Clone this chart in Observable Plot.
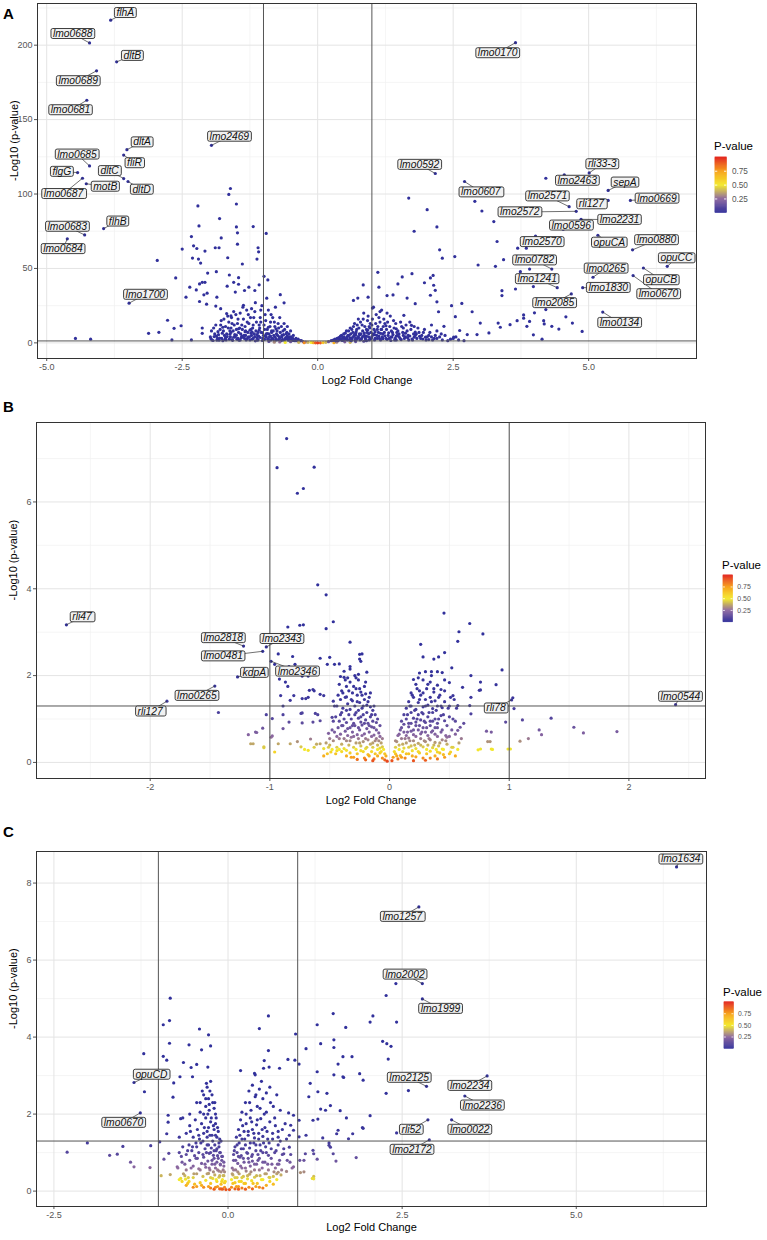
<!DOCTYPE html>
<html><head><meta charset="utf-8">
<script src="https://cdn.jsdelivr.net/npm/d3@7"></script>
<script src="https://cdn.jsdelivr.net/npm/@observablehq/plot@0.6"></script>
<style>
body{margin:0;background:#fff;font-family:"Liberation Sans",Arial,sans-serif;}
#root{position:relative;width:767px;height:1240px;overflow:hidden;background:#fff;}
.abs{position:absolute;}
.letter{font-weight:bold;font-size:15px;line-height:18px;}
.ltitle{font-size:11.5px;line-height:14px;color:#000;}
</style></head><body><div id="root"></div>
<script>
// ---------- DATA ----------
const colorStops = [0, 0.25, 0.5, 0.75, 1];
const colorRange = ["#31309b", "#8d68a0", "#f4ea2c", "#f7a21c", "#e3261f"];
const legendTicks = [0.25, 0.5, 0.75];
const foldLines = [-1, 1];
const sigLine = 1.3;

// Panel A
const xTicksA = [-5, -2.5, 0, 2.5, 5];
const xMinorA = [-3.75, -1.25, 1.25, 3.75, 6.25];
const yTicksA = [0, 50, 100, 150, 200];
const yMinorA = [25, 75, 125, 175, 225];
const genesA = [
["flhA",-3.82,216.8],["lmo0688",-4.21,201.5],["dltB",-3.71,188.8],["lmo0689",-4.08,182.8],["lmo0681",-4.26,163.0],
["lmo2469",-1.96,132.7],["dltA",-3.52,129.8],["fliR",-3.58,126.2],["lmo0685",-4.21,118.9],["flgG",-4.43,114.4],
["dltC",-3.58,110.4],["dltD",-3.50,108.4],["lmo0687",-4.34,110.6],["motB",-4.27,106.9],["flhB",-3.95,76.8],
["lmo0683",-4.30,72.5],["lmo0684",-4.62,69.9],["lmo1700",-3.48,26.7],
["lmo0170",3.65,201.7],["lmo0592",2.17,113.8],["lmo0607",2.71,108.4],["rli33-3",5.01,114.2],["lmo2463",4.55,112.9],
["sepA",5.36,102.4],["lmo2571",4.64,91.5],["rli127",5.36,95.7],["lmo2572",4.77,88.4],["lmo0669",5.77,95.7],
["lmo2231",4.86,83.0],["lmo0596",4.53,76.4],["opuCA",5.17,72.3],["lmo2570",4.02,71.8],["lmo0880",5.81,62.5],
["opuCC",6.45,51.4],["lmo0782",4.32,49.6],["lmo0265",5.08,44.1],["opuCB",6.01,50.3],["lmo1241",4.42,37.1],
["lmo1830",4.89,37.1],["lmo0670",5.82,45.2],["lmo2085",4.68,32.9],["lmo0134",5.26,20.7]];
const spotsA = [
[-3.55,221.8],[-4.52,207.7],[-3.42,193],[-4.42,176],[-4.56,156.5],
[-1.63,138.7],[-3.24,134.9],[-3.38,120.9],[-4.44,126.7],[-4.72,115.1],
[-3.84,115.6],[-3.25,103.1],[-4.69,100.2],[-3.92,105.1],[-3.69,81.7],
[-4.62,78.2],[-4.70,63.2],[-3.18,32.5],
[3.32,194.8],[1.88,119.8],[3.01,101.3],[5.25,120.2],[4.79,109.1],
[5.67,107.9],[4.24,98.6],[5.05,93.3],[3.73,87.9],[6.26,97.1],
[5.57,82.8],[4.68,79.0],[5.38,67.5],[4.14,67.9],[6.25,69.2],
[6.62,57.0],[4.0,55.6],[5.32,50.1],[6.34,42.3],[4.05,43.0],
[5.36,37.1],[6.29,32.9],[4.37,26.9],[5.57,13.6]];
const pointsA = [
[-1.61,103.7],[-1.64,99.7],[-1.50,93.3],[-2.21,92.0],[-1.81,83.5],[-2.19,78.6],[-1.50,77.9],[-1.19,78.1],[-1.48,73.9],[-0.95,73.5],
[-2.33,71.4],[-1.78,70.5],[-2.29,65.2],[-2.23,63.4],[-2.08,61.7],[-2.50,63.0],[-1.89,63.9],[-1.82,63.9],[-1.48,66.3],[-1.10,63.9],
[-1.09,61.2],[-1.12,56.3],[-2.31,57.0],[-2.20,56.3],[-2.16,53.6],[-1.66,57.2],[-1.39,53.0],[-2.96,55.4],[-2.62,43.6],[-2.03,46.9],
[-1.87,47.8],[-1.63,45.6],[-1.46,43.8],[-0.99,44.7],[-0.92,42.3],[-2.18,39.6],[-2.13,40.7],[-2.08,40.7],[-1.55,40.7],[-1.46,39.4],
[-1.67,38.1],[-2.36,37.4],[-2.24,35.6],[-2.04,33.4],[-2.10,32.3],[-1.86,30.7],[-1.52,34.1],[-1.35,35.2],[-1.27,37.4],[-1.16,35.2],
[-1.08,39.0],[-0.69,32.4],[-2.43,30.7],[-2.18,27.8],[-2.05,26.0],[-1.88,24.7],[-1.79,23.0],[-1.68,19.7],[-1.60,18.1],[-1.37,25.2],
[-1.22,23.0],[-0.62,26.9],[-2.77,15.2],[-2.52,11.5],[-2.65,9.8],[-3.12,6.4],[-2.93,7.1],[-2.69,2.0],[-2.33,2.0],[-2.13,10.0],
[-2.13,6.4],[-4.47,3.0],[-4.19,2.5],
[0.84,38.9],[1.11,47.4],[1.68,97.3],[1.78,75.0],[1.56,44.3],[1.74,46.5],[1.48,39.6],[1.13,37.4],[0.74,30.1],[0.66,28.5],
[0.93,30.7],[1.01,23.4],[1.28,31.8],[1.39,32.2],[1.65,30.1],[1.80,26.3],[1.59,18.5],[1.73,11.8],[1.80,7.3],
[2.02,89.5],[2.20,77.9],[2.25,62.5],[2.30,56.9],[2.53,58.0],[2.90,95.1],[3.03,88.6],[3.25,81.5],[3.31,68.1],[3.43,55.9],
[3.28,51.4],[2.96,52.3],[4.21,110.6],[3.69,63.6],[3.85,63.6],[3.91,49.6],[3.74,47.8],[3.98,37.8],[3.40,35.1],[3.40,31.8],
[3.65,36.2],[4.00,20.2],[4.21,22.4],[4.58,17.5],[4.70,13.3],[4.88,7.7],[4.17,14.9],[4.18,12.7],[4.32,11.1],[4.45,9.3],
[3.80,18.8],[3.80,16.6],[3.86,11.1],[3.91,14.4],[3.68,14.9],[3.98,5.4],[4.14,2.5],[3.55,12.2],[3.37,10.5],[3.33,13.3],
[3.16,6.7],[3.00,13.3],[2.94,5.6],[2.85,20.9],[2.66,26.5],[2.54,17.6],[2.47,25.0],[2.62,8.3],[2.76,5.6],[2.51,3.9],
[2.33,11.1],[2.23,20.9],[2.20,27.6],[2.14,38.7],[2.08,43.6],[1.97,40.4],[2.08,32.0],[2.17,35.3],[2.13,45.3],
[-1.95,2],[-1.9,6],[-1.88,12],[-1.85,3],[-1.8,9],[-1.78,15],[-1.75,1.5],[-1.72,5],[-1.7,11],[-1.66,18],
[-1.63,2.5],[-1.6,7],[-1.58,13],[-1.55,21],[-1.52,4],[-1.5,9],[-1.47,16],[-1.45,1.8],[-1.42,6],[-1.4,12],
[-1.38,24],[-1.35,3],[-1.33,8],[-1.3,14],[-1.28,19],[-1.25,2],[-1.22,5],[-1.2,10],[-1.18,17],[-1.15,27],
[-1.12,3.5],[-1.1,7],[-1.08,12],[-1.05,22],[-1.02,1.6],[-1.0,5],[-0.98,9],[-0.96,15],[-0.94,30],[-0.92,2.5],
[-0.9,6],[-0.88,11],[-0.86,19],[-0.84,3],[-0.82,8],[-0.8,14],[-0.78,24],[-0.76,2],[-0.74,5],[-0.72,10],
[-0.7,17],[-0.68,1.5],[-0.66,4],[-0.64,8],[-0.62,13],[-0.6,2.5],[-0.58,6],[-0.56,11],[-0.54,1.8],[-0.52,4],
[-0.5,8],[-0.47,2],[-0.45,5],[-0.42,1.5],[-0.4,3],[-0.37,2],[-0.34,1.4],[-0.3,1.6],
[-1.7,3.5],[-1.4,4.5],[-1.15,1.4],[-0.95,3.8],[-0.8,1.5],[-0.65,2.2],[-1.25,8.5],[-1.6,10],[-1.05,14],[-0.85,7],
[-1.98,4],[-1.96,8],[-1.93,1.6],[-1.92,10],[-1.87,4.5],[-1.84,7.5],[-1.82,1.8],[-1.79,12],[-1.77,3],[-1.74,8],
[-1.73,16],[-1.69,2],[-1.68,6],[-1.65,10],[-1.64,14],[-1.61,4],[-1.59,17],[-1.57,1.7],[-1.56,8],[-1.54,12],
[-1.53,5.5],[-1.51,19],[-1.49,2.5],[-1.48,13],[-1.46,7],[-1.44,10],[-1.43,20],[-1.41,3.5],[-1.39,9],[-1.37,16],
[-1.36,5],[-1.34,11],[-1.32,2],[-1.31,22],[-1.29,7],[-1.27,13],[-1.26,4],[-1.24,17],[-1.23,9],[-1.21,2.5],
[-1.19,12],[-1.17,6],[-1.16,21],[-1.14,8],[-1.13,14],[-1.11,1.8],[-1.09,4.5],[-1.07,10],[-1.06,17],[-1.04,7],
[-1.03,25],[-1.01,3],[-0.99,12],[-0.97,19],[-0.95,6],[-0.93,9],[-0.91,22],[-0.89,4],[-0.87,14],[-0.86,2],
[-0.85,8],[-0.83,17],[-0.81,5],[-0.79,11],[-0.77,2.8],[-0.75,8],[-0.73,13],[-0.71,4],[-0.69,7],[-0.67,11],
[-0.65,2],[-0.63,5.5],[-0.61,9],[-0.59,3.5],[-0.57,7],[-0.55,3],[-0.53,6],[-0.51,2],[-0.49,4],[-0.46,3],
[-0.44,1.7],[-0.41,2.3],[-0.38,1.5],[-0.36,2.5],[-0.32,1.5],
[-1.97,2.8],[-1.91,4.2],[-1.86,1.9],[-1.83,5.5],[-1.81,3.2],[-1.76,6.5],[-1.71,2.3],[-1.67,4.2],[-1.62,5.8],[-1.58,2.2],
[-1.55,3.8],[-1.5,5.2],[-1.47,3.0],[-1.43,2.0],[-1.38,4.0],[-1.33,5.0],[-1.3,2.8],[-1.28,3.8],[-1.23,6.5],[-1.19,3.0],
[-1.16,4.2],[-1.12,5.6],[-1.1,2.2],[-1.06,3.6],[-1.02,6.8],[-0.98,2.4],[-0.96,4.4],[-0.93,6.2],[-0.9,2.2],[-0.87,4.6],
[-0.83,2.8],[-0.79,4.0],[-0.76,6.0],[-0.72,2.2],[-0.7,3.4],[-0.66,5.0],[-0.62,2.0],[-0.58,3.0],[-0.56,4.6],[-0.53,2.4],
[-0.48,2.8],[-0.45,1.6],[-1.34,7.5],[-1.21,7.2],[-1.08,8.5],[-0.91,10.5],[-0.77,9.5],[-1.46,9.5],[-1.62,8.0],[-1.75,10.5],
[0.35,1.8],[0.41,2.8],[0.46,3.5],[0.52,2.3],[0.55,4.2],[0.6,3.2],[0.63,2.2],[0.67,4.4],[0.7,5.5],[0.72,2.4],
[0.75,3.4],[0.78,5.4],[0.8,2.3],[0.83,4.2],[0.86,6.6],[0.88,2.8],[0.9,4.6],[0.94,6.2],[0.97,2.6],[1.0,4.2],
[1.03,5.6],[1.06,7.5],[1.1,3.0],[1.13,4.6],[1.16,6.4],[1.2,3.4],[1.24,4.8],[1.28,2.4],[1.31,6.8],[1.35,3.8],
[1.39,5.6],[1.43,3.0],[1.46,7.0],[1.5,4.2],[1.54,2.2],[1.58,5.0],[1.62,6.5],[1.66,3.4],[1.7,4.6],[1.74,2.6],
[1.78,3.8],[1.82,6.0],[1.88,4.4],[1.94,2.6],[1.99,3.8],[2.05,2.2],[2.1,4.0],[2.2,3.0],[0.92,8.5],[1.18,9.0],[1.26,11.5],[1.45,9.5],
[-0.9,1.0],[-0.7,0.6],[-0.5,0.8],[-0.35,0.4],[-0.27,0.9],[-0.22,0.6],[-0.18,0.4],[-0.12,0.3],[-0.08,0.15],[-0.04,0.05],
[0.0,0.02],[0.05,0.05],[0.1,0.2],[0.15,0.4],[0.2,0.8],[0.35,0.5],[0.5,0.7],[0.7,0.9],[0.85,1.1],[-0.6,0.3],[0.6,0.4],[-0.8,0.5],[0.3,0.15],[-0.25,0.1],
[0.25,1.5],[0.3,2],[0.33,1.4],[0.36,3],[0.4,2],[0.42,4.5],[0.45,1.6],[0.48,6],[0.5,3],[0.53,8],
[0.55,2],[0.58,5],[0.6,10],[0.62,1.5],[0.65,7],[0.68,13],[0.7,3],[0.72,9],[0.75,16],[0.78,2],
[0.8,6],[0.82,12],[0.85,20],[0.88,4],[0.9,9],[0.92,15],[0.95,2],[0.98,7],[1.0,12],[1.03,24],
[1.06,3],[1.1,9],[1.13,17],[1.16,2],[1.2,6],[1.24,13],[1.28,20],[1.32,3],[1.36,8],[1.4,15],
[1.45,2],[1.5,6],[1.55,11],[1.6,3],[1.65,8],[1.7,14],[1.75,2],[1.8,5],[1.85,10],[1.9,3],
[1.95,7],[2.0,2],[2.05,5],[2.1,12],[2.15,3],[2.2,8],[2.3,2],[2.35,5],[2.4,1.5],[2.5,3],[2.6,2],[2.7,1.5],
[0.6,2.2],[0.75,4],[0.9,1.5],[1.05,5.5],[1.2,2.8],[1.35,1.6],[0.7,6.5],[1.45,4.5],[0.95,11],[1.15,21],
[0.28,1.7],[0.32,2.5],[0.37,1.5],[0.39,3.5],[0.43,2.5],[0.44,5],[0.47,1.8],[0.49,4],[0.51,6.5],[0.54,3],
[0.56,5],[0.57,8],[0.59,2],[0.61,6],[0.63,9],[0.64,3.5],[0.66,11],[0.67,5],[0.69,1.8],[0.71,7.5],
[0.73,12],[0.74,4],[0.76,10],[0.77,6],[0.79,14],[0.81,3],[0.83,8],[0.84,16],[0.86,5],[0.87,11],
[0.89,2],[0.91,7],[0.93,18],[0.94,4],[0.96,10],[0.97,13],[0.99,3],[1.01,16],[1.02,6],[1.04,9],
[1.05,2],[1.07,13],[1.08,19],[1.09,5],[1.11,11],[1.12,7],[1.14,3],[1.15,14],[1.17,9],[1.18,22],
[1.19,4],[1.21,11],[1.22,16],[1.23,7],[1.26,3],[1.27,9],[1.29,14],[1.3,5],[1.33,11],[1.34,18],
[1.37,4],[1.38,7],[1.41,10],[1.42,2],[1.44,13],[1.47,5],[1.48,8],[1.52,3],[1.53,14],[1.57,7],
[1.58,10],[1.62,4],[1.63,12],[1.67,5],[1.68,2],[1.72,9],[1.77,6],[1.78,11],[1.83,3],[1.87,7],
[1.92,5],[1.97,9],[2.02,4],[2.07,7],[2.12,2],[2.17,5],[2.25,4],[2.28,6],[2.45,2.5],[2.55,4]];

// Panel B
const xTicksB = [-2, -1, 0, 1, 2];
const xMinorB = [-2.5, -1.5, -0.5, 0.5, 1.5, 2.5];
const yTicksB = [0, 2, 4, 6];
const yMinorB = [1, 3, 5, 7];
const genesB = [["rli47",-2.70,3.17],["lmo2818",-1.22,2.68],["lmo2343",-1.03,2.66],["lmo0481",-1.06,2.56],["kdpA",-1.27,1.97],
["lmo2346",-0.99,2.33],["lmo0265",-1.46,1.76],["rli127",-1.86,1.41],["rli78",1.02,1.44],["lmo0544",2.39,1.33]];
const spotsB = [[-2.57,3.35],[-1.39,2.87],[-0.90,2.85],[-1.39,2.45],[-1.13,2.07],[-0.77,2.10],[-1.61,1.54],[-2.0,1.18],[0.89,1.25],[2.43,1.52]];
const pointsB = [
[-0.86,7.46],[-0.94,6.79],[-0.63,6.80],[-0.77,6.20],[-0.72,6.31],[-0.60,4.09],[-0.53,3.86],[-0.47,3.24],[-0.53,3.08],[-0.85,3.12],
[-0.75,3.16],[-0.72,3.17],[-0.33,2.77],[-0.25,2.49],[-0.25,2.38],[-0.93,2.50],[-0.81,2.44],[-0.58,2.40],[-0.50,2.42],[-0.52,2.26],
[-0.46,2.26],[-0.33,2.21],[-0.96,2.26],[-0.84,2.21],[-0.79,2.26],[-0.73,1.99],[-0.41,1.98],[-0.26,2.03],[-0.92,1.92],[-0.87,1.85],
[-0.85,1.75],[-0.67,1.66],[-0.64,1.68],[-0.68,1.50],[-0.58,1.57],[-0.91,1.54],[-0.80,1.54],[-0.83,1.43],[-0.73,1.47],[-0.47,1.41],
[-0.36,1.51],[-0.89,1.30],[-1.43,1.15],[-1.03,1.10],[-0.89,1.10],[-0.73,1.14],[-0.60,1.10],[-0.98,1.01],[-0.84,0.93],[-0.73,0.91],
[-0.64,0.93],[-0.58,0.96],[-1.06,0.79],[-0.89,0.78],[-0.99,0.58],[-1.18,0.64],[-1.12,0.70],[-0.66,0.54],[-0.51,0.67],[-0.48,0.75],
[-1.16,0.43],[-1.14,0.43],[-1.05,0.34],[-0.93,0.43],[-0.83,0.43],[-0.77,0.48],[-0.71,0.30],[-0.63,0.35],[-0.58,0.43],[-0.51,0.35],
[-0.44,0.27],[-0.23,2.50],[-0.42,2.27],[-0.24,2.33],[-0.68,1.99],[-0.38,1.96],[-0.19,2.08],[-0.63,1.65],[-0.55,1.54],[-0.70,1.47],
[-0.62,1.13],[-0.48,1.04],[-1.11,0.69],[-0.98,0.61],[-1.05,0.36],[-0.96,0.24],[-0.74,0.36],[-0.68,0.28],[-0.61,0.42],[-0.55,0.32],
[-0.49,0.24],[-0.74,1.13],
[0.455,3.44],[0.67,3.20],[0.58,3.01],[0.78,2.96],[0.57,2.79],[0.26,2.72],[0.46,2.53],[0.28,2.43],[0.37,2.38],[0.41,2.43],
[0.52,2.18],[0.94,2.13],[0.20,1.91],[0.25,2.06],[0.30,2.09],[0.35,2.09],[0.40,2.09],[0.44,2.07],[0.68,2.00],[0.50,1.84],
[0.61,1.73],[0.76,1.85],[0.89,1.79],[0.76,1.67],[1.04,1.24],[1.11,0.98],[0.97,0.93],[0.81,0.72],[0.85,0.70],[1.09,0.49],
[1.16,0.55],[1.25,0.75],[0.74,0.29],[0.86,0.30],[0.99,0.31],[0.53,1.54],[0.57,1.31],[0.59,0.81],[0.68,1.12],[0.48,0.58],
[0.44,0.31],[0.40,0.24],[0.51,0.24],[1.35,1.02],[1.54,0.81],[1.62,0.68],[1.90,0.71],[1.27,0.64],[1.03,1.49],[0.75,1.66],
[0.68,1.50],[0.67,1.31],[0.57,0.74],[0.82,0.48],[0.84,0.48],[0.76,0.31],[0.85,0.31],[1.01,0.31],
[-0.38,2.1],[-0.33,2.15],[-0.29,2.0],[-0.35,1.95],
[-0.42,1.8],[-0.4,1.65],[-0.36,1.75],[-0.33,1.85],[-0.31,1.6],[-0.28,1.7],[-0.26,1.9],[-0.24,1.62],[-0.21,1.75],[-0.2,1.58],
[-0.44,1.3],[-0.41,1.45],[-0.39,1.25],[-0.37,1.5],[-0.35,1.35],[-0.33,1.22],[-0.31,1.42],[-0.29,1.3],[-0.27,1.55],[-0.25,1.38],
[-0.23,1.25],[-0.21,1.45],[-0.19,1.32],[-0.17,1.5],[-0.16,1.28],[-0.14,1.2],
[-0.45,1.05],[-0.42,0.95],[-0.4,1.15],[-0.38,1.0],[-0.36,0.92],[-0.34,1.1],[-0.32,1.0],[-0.3,0.9],[-0.28,1.15],[-0.26,1.02],
[-0.24,0.93],[-0.22,1.1],[-0.2,0.98],[-0.18,0.9],[-0.16,1.05],[-0.14,0.95],[-0.12,1.1],[-0.11,0.92],
[-0.46,0.7],[-0.43,0.8],[-0.41,0.65],[-0.39,0.85],[-0.37,0.72],[-0.35,0.62],[-0.33,0.8],[-0.31,0.7],[-0.29,0.85],[-0.27,0.64],
[-0.25,0.75],[-0.23,0.86],[-0.21,0.66],[-0.19,0.78],[-0.17,0.7],[-0.15,0.82],[-0.13,0.63],[-0.11,0.75],[-0.09,0.68],[-0.08,0.6],
[-0.5,0.4],[-0.47,0.5],[-0.44,0.35],[-0.42,0.55],[-0.4,0.42],[-0.38,0.32],[-0.36,0.5],[-0.34,0.4],[-0.32,0.58],[-0.3,0.35],
[-0.28,0.45],[-0.26,0.55],[-0.24,0.38],[-0.22,0.48],[-0.2,0.32],[-0.18,0.52],[-0.16,0.42],[-0.14,0.35],[-0.12,0.5],[-0.1,0.4],
[-0.08,0.33],[-0.07,0.45],[-0.06,0.36],
[-0.45,0.2],[-0.4,0.25],[-0.36,0.15],[-0.33,0.22],[-0.3,0.12],[-0.27,0.2],[-0.24,0.27],[-0.21,0.1],[-0.18,0.18],[-0.15,0.25],
[-0.13,0.08],[-0.1,0.15],[-0.08,0.22],[-0.06,0.1],[-0.04,0.06],[-0.03,0.15],[-0.02,0.03],
[-0.43,1.55],[-0.41,1.1],[-0.39,1.6],[-0.38,0.55],[-0.37,1.9],[-0.36,1.2],[-0.35,0.78],[-0.34,1.65],[-0.33,0.5],[-0.32,1.45],
[-0.31,0.85],[-0.3,1.75],[-0.3,0.6],[-0.29,1.1],[-0.28,0.3],[-0.28,1.95],[-0.27,1.4],[-0.26,0.8],[-0.26,1.2],[-0.25,0.45],
[-0.25,1.7],[-0.24,1.05],[-0.23,0.62],[-0.23,1.55],[-0.22,0.25],[-0.22,1.3],[-0.21,0.9],[-0.2,1.85],[-0.2,0.55],[-0.19,1.15],
[-0.19,0.35],[-0.18,1.4],[-0.17,0.85],[-0.17,0.15],[-0.16,1.6],[-0.15,0.6],[-0.15,1.1],[-0.14,0.45],[-0.13,1.3],[-0.13,0.8],
[-0.12,0.2],[-0.11,0.55],[-0.1,1.0],[-0.1,0.3],[-0.09,0.5],[-0.08,0.85],[-0.07,0.25],[-0.06,0.55],[-0.05,0.3],[-0.04,0.2],
[-0.4,0.85],[-0.42,0.3],[-0.44,0.6],[-0.47,0.95],[-0.48,0.3],[-0.5,0.55],[-0.52,0.2],[-0.53,0.45],[-0.55,0.15],[-0.46,1.3],
[-0.36,0.28],[-0.32,0.12],[-0.27,0.07],[-0.2,0.06],[-0.14,0.04],
[0.22,1.8],[0.25,1.65],[0.28,1.9],[0.31,1.7],[0.34,1.85],[0.37,1.62],[0.4,1.78],[0.43,1.68],[0.46,1.9],[0.24,1.95],[0.35,2.0],[0.18,1.6],
[0.14,1.25],[0.16,1.4],[0.18,1.3],[0.2,1.5],[0.22,1.22],[0.24,1.38],[0.26,1.55],[0.28,1.28],[0.3,1.45],[0.32,1.32],
[0.34,1.5],[0.36,1.24],[0.38,1.42],[0.4,1.3],[0.42,1.55],[0.44,1.26],[0.46,1.4],[0.5,1.3],[0.54,1.45],
[0.1,0.95],[0.12,1.1],[0.14,1.0],[0.16,0.9],[0.18,1.15],[0.2,1.02],[0.22,0.93],[0.24,1.1],[0.26,0.98],[0.28,1.12],
[0.3,0.92],[0.32,1.05],[0.34,0.95],[0.36,1.15],[0.38,1.0],[0.4,0.9],[0.43,1.08],[0.46,0.96],[0.5,1.05],[0.55,0.95],
[0.08,0.65],[0.1,0.8],[0.12,0.7],[0.14,0.62],[0.16,0.82],[0.18,0.72],[0.2,0.64],[0.22,0.85],[0.24,0.75],[0.26,0.66],
[0.28,0.8],[0.3,0.7],[0.32,0.62],[0.34,0.85],[0.36,0.73],[0.38,0.65],[0.4,0.8],[0.43,0.7],[0.47,0.62],[0.52,0.75],
[0.05,0.35],[0.06,0.48],[0.08,0.4],[0.1,0.55],[0.12,0.33],[0.14,0.45],[0.16,0.56],[0.18,0.38],[0.2,0.5],[0.22,0.32],
[0.24,0.44],[0.26,0.55],[0.28,0.36],[0.3,0.48],[0.32,0.4],[0.34,0.52],[0.36,0.34],[0.38,0.46],[0.41,0.38],[0.44,0.52],
[0.48,0.42],[0.53,0.35],[0.58,0.45],
[0.02,0.04],[0.03,0.12],[0.05,0.2],[0.07,0.08],[0.09,0.16],[0.11,0.25],[0.13,0.1],[0.16,0.2],[0.19,0.27],[0.22,0.13],
[0.25,0.22],[0.28,0.1],[0.31,0.2],[0.34,0.26],[0.38,0.15],[0.42,0.22],[0.46,0.12],[0.5,0.2],
[0.04,0.25],[0.05,0.5],[0.06,0.15],[0.07,0.62],[0.08,0.3],[0.09,0.75],[0.1,0.12],[0.11,0.42],[0.12,0.88],[0.13,0.55],
[0.14,0.2],[0.15,1.1],[0.15,0.7],[0.16,0.35],[0.17,1.3],[0.17,0.5],[0.18,0.9],[0.19,0.15],[0.19,1.55],[0.2,0.75],
[0.21,0.4],[0.21,1.2],[0.22,0.6],[0.23,1.0],[0.23,1.7],[0.24,0.25],[0.25,0.85],[0.25,1.45],[0.26,0.4],[0.27,1.15],
[0.27,0.7],[0.28,1.6],[0.29,0.5],[0.29,0.95],[0.3,1.3],[0.31,0.3],[0.31,0.8],[0.32,1.8],[0.33,0.55],[0.33,1.15],
[0.34,0.1],[0.35,0.7],[0.35,1.4],[0.36,0.95],[0.37,0.4],[0.37,1.7],[0.38,0.8],[0.39,1.2],[0.39,0.3],[0.4,0.6],
[0.41,1.5],[0.41,1.0],[0.42,0.45],[0.43,1.3],[0.44,0.75],[0.45,0.3],[0.45,1.1],[0.46,1.65],[0.47,0.5],[0.48,0.85],
[0.49,1.25],[0.5,0.6],[0.51,1.5],[0.52,0.35],[0.53,1.0],[0.55,0.65],[0.56,1.25],[0.57,0.3],[0.6,0.55],[0.62,0.9],
[0.3,0.05],[0.2,0.04],[0.4,0.08],[0.45,0.18],[0.55,0.15]];

// Panel C
const xTicksC = [-2.5, 0, 2.5, 5];
const xMinorC = [-1.25, 1.25, 3.75, 6.25];
const yTicksC = [0, 2, 4, 6, 8];
const yMinorC = [1, 3, 5, 7];
const genesC = [["lmo1634",6.44,8.42],["lmo1257",2.74,7.38],["lmo2002",2.79,5.39],["lmo1999",2.79,4.99],["lmo2125",2.85,2.72],
["lmo2234",3.72,2.99],["lmo2236",3.40,2.47],["rli52",2.87,1.85],["lmo0022",3.21,1.85],["lmo2172",2.89,1.33],
["opuCD",-1.35,2.82],["lmo0670",-1.26,2.03]];
const spotsC = [[6.50,8.62],[2.50,7.13],[2.54,5.63],[3.05,4.74],[2.60,2.95],[3.47,2.74],[3.65,2.23],[2.63,1.60],[3.47,1.60],[2.64,1.08],[-1.10,3.03],[-1.50,1.78]];
const pointsC = [
[-0.83,5.01],[-0.93,4.32],[-0.84,4.43],[-0.84,3.84],[-1.21,3.57],[-0.93,3.50],[-0.88,3.40],[-0.41,4.21],[-0.28,4.06],[-0.56,3.80],
[-0.25,3.77],[-0.38,3.67],[-0.64,3.34],[-0.53,3.21],[-0.45,3.29],[-0.29,3.22],[-0.69,2.97],[-0.51,2.97],[-0.78,2.81],[-1.20,2.58],
[-0.79,2.44],[-0.86,1.97],[-0.68,1.88],[-0.86,1.79],[-0.88,1.49],[-1.11,1.18],[-0.98,1.28],[-2.31,1.01],[-2.02,1.25],[-1.70,0.93],
[-1.59,0.96],[-1.51,1.16],[-1.40,0.75],[-1.35,0.63],[-1.12,0.61],[-0.92,0.83],[-0.85,0.98],[-0.96,0.40],[-0.73,0.63],[-0.68,0.33],
[-0.61,0.31],[-0.83,0.43],
[0.58,4.55],[0.45,4.22],[0.97,4.08],[0.58,3.65],[0.52,3.39],[0.59,3.22],[0.51,3.19],[0.74,3.19],[0.86,3.42],[0.96,3.40],
[1.02,3.30],[0.18,3.13],[0.38,3.06],[0.39,3.02],[1.51,4.61],[1.28,4.32],[1.69,4.25],[2.04,4.39],[2.08,4.55],[1.12,3.70],
[1.33,3.83],[1.52,3.93],[1.52,3.73],[1.65,3.49],[1.58,3.30],[1.78,3.49],[1.65,2.97],[1.52,3.02],[1.89,3.05],[1.94,2.88],
[1.28,3.10],[1.18,2.80],[1.29,2.58],[1.42,2.54],[1.16,2.45],[1.33,2.13],[1.40,2.10],[1.47,2.22],[1.61,2.09],[1.70,1.90],
[2.04,1.96],[1.94,1.63],[1.79,1.49],[1.73,1.36],[1.56,1.49],[1.58,1.58],[1.22,1.84],[1.29,1.87],[1.22,1.06],[1.28,0.83],
[1.45,1.19],[1.51,0.97],[1.55,0.78],[1.84,0.87],[1.23,0.38],[1.21,0.33],[1.04,0.48],[1.09,0.50],[0.94,0.63],[1.03,0.80],
[1.11,0.97],[1.12,1.45],[1.02,1.84],[0.94,1.97],[0.87,2.03],[0.90,1.71],[0.94,1.58],[1.02,1.41],[0.88,1.14],[0.80,0.97],
[0.89,0.75],[0.71,0.70],[0.84,0.51],[0.59,0.36],[0.72,0.49],
[2.41,5.39],[2.27,5.08],[2.42,4.39],[2.22,3.89],[2.28,3.83],[2.34,3.76],[2.30,3.43],[1.66,2.95],[2.27,2.54],[2.59,2.61],
[1.93,1.65],[2.42,1.51],[1.36,1.38],[1.45,1.25],[1.47,1.14],[1.23,0.97],[1.09,0.80],[1.23,0.32],
[-0.35,2.5],[-0.3,2.7],[-0.28,2.4],[-0.25,2.85],[-0.22,2.3],[-0.32,2.2],[-0.4,2.05],[-0.27,2.1],[-0.2,2.15],[-0.37,2.6],
[-0.45,2.3],[-0.55,2.0],[-0.18,2.0],
[-0.6,1.5],[-0.55,1.7],[-0.5,1.4],[-0.47,1.85],[-0.44,1.6],[-0.41,1.35],[-0.38,1.75],[-0.35,1.5],[-0.32,1.9],[-0.3,1.4],
[-0.28,1.65],[-0.25,1.8],[-0.23,1.45],[-0.2,1.6],[-0.18,1.75],[-0.16,1.4],[-0.14,1.55],[-0.12,1.35],[-0.65,1.9],[-0.7,1.4],
[-0.7,1.0],[-0.65,1.15],[-0.6,0.95],[-0.56,1.2],[-0.52,1.05],[-0.48,0.92],[-0.45,1.15],[-0.42,1.0],[-0.39,1.25],[-0.36,0.95],
[-0.33,1.1],[-0.3,1.2],[-0.27,0.98],[-0.24,1.12],[-0.21,0.93],[-0.19,1.2],[-0.17,1.05],[-0.15,0.92],[-0.13,1.15],[-0.11,1.0],[-0.09,0.9],
[-0.72,0.6],[-0.66,0.75],[-0.6,0.55],[-0.55,0.8],[-0.5,0.65],[-0.46,0.85],[-0.42,0.58],[-0.38,0.72],[-0.35,0.88],[-0.32,0.62],
[-0.29,0.78],[-0.26,0.55],[-0.23,0.7],[-0.2,0.85],[-0.18,0.6],[-0.16,0.75],[-0.13,0.52],[-0.11,0.68],[-0.09,0.8],[-0.07,0.55],[-0.06,0.65],
[-0.7,0.3],[-0.62,0.4],[-0.56,0.25],[-0.5,0.35],[-0.45,0.45],[-0.4,0.22],[-0.36,0.38],[-0.32,0.28],[-0.28,0.46],[-0.25,0.2],
[-0.22,0.33],[-0.19,0.42],[-0.16,0.25],[-0.13,0.36],[-0.1,0.18],[-0.08,0.3],[-0.06,0.4],[-0.05,0.22],[-0.6,0.15],[-0.48,0.18],
[-0.35,0.1],[-0.25,0.08],[-0.15,0.12],[-0.1,0.06],[-0.05,0.1],[-0.03,0.04],[-0.45,0.12],[-0.2,0.05],
[-0.36,1.3],[-0.34,1.65],[-0.33,0.7],[-0.32,2.4],[-0.31,1.0],[-0.3,0.45],[-0.3,1.55],[-0.29,2.0],[-0.28,1.2],[-0.27,0.6],
[-0.27,2.25],[-0.26,1.45],[-0.25,0.35],[-0.25,1.0],[-0.24,1.9],[-0.23,0.8],[-0.23,2.5],[-0.22,1.3],[-0.21,0.5],[-0.21,1.7],
[-0.2,1.05],[-0.19,2.3],[-0.19,0.7],[-0.18,1.45],[-0.17,0.3],[-0.17,1.9],[-0.16,1.1],[-0.15,0.55],[-0.15,1.65],[-0.14,0.85],
[-0.13,1.25],[-0.12,0.4],[-0.12,1.0],[-0.11,0.7],[-0.1,1.3],[-0.1,0.5],[-0.09,0.25],[-0.08,0.9],[-0.07,0.4],[-0.06,0.75],
[-0.05,0.5],[-0.04,0.25],[-0.4,0.55],[-0.42,1.45],[-0.44,0.85],[-0.46,1.25],[-0.49,0.45],[-0.51,1.15],[-0.53,0.6],[-0.54,1.55],
[-0.57,0.35],[-0.58,1.05],[-0.62,0.7],[-0.64,0.45],[-0.67,0.9],[-0.38,0.15],[-0.28,0.12],[-0.18,0.1],[-0.12,0.06],[-0.08,0.05],
[-0.5,0.1],[-0.58,0.2],[-0.66,0.25],[-0.4,2.3],[-0.35,2.0],[-0.31,2.8],[-0.26,2.6],
[0.3,2.6],[0.35,2.75],[0.4,2.5],[0.45,2.65],[0.5,2.4],[0.55,2.55],[0.6,2.7],[0.42,2.2],[0.33,2.1],[0.25,2.3],
[0.2,2.05],[0.65,2.2],[0.7,2.5],[0.55,2.05],[0.48,2.85],[0.75,2.1],
[0.12,1.4],[0.15,1.6],[0.18,1.85],[0.2,1.35],[0.23,1.55],[0.26,1.75],[0.29,1.45],[0.32,1.9],[0.35,1.6],[0.38,1.38],
[0.41,1.72],[0.44,1.5],[0.47,1.88],[0.5,1.42],[0.53,1.65],[0.57,1.35],[0.6,1.8],[0.64,1.5],[0.68,1.7],[0.72,1.4],[0.78,1.6],[0.84,1.35],
[0.08,0.95],[0.1,1.15],[0.13,1.0],[0.16,1.25],[0.19,0.92],[0.22,1.1],[0.25,1.2],[0.28,0.98],[0.31,1.12],[0.34,0.9],
[0.37,1.25],[0.4,1.05],[0.43,0.95],[0.46,1.2],[0.5,1.0],[0.54,1.15],[0.58,0.93],[0.62,1.1],[0.67,1.0],[0.72,1.2],[0.78,0.95],
[0.06,0.6],[0.08,0.8],[0.11,0.55],[0.14,0.72],[0.17,0.88],[0.2,0.6],[0.23,0.75],[0.26,0.52],[0.29,0.85],[0.32,0.65],
[0.35,0.78],[0.38,0.55],[0.41,0.7],[0.45,0.85],[0.49,0.6],[0.53,0.75],[0.58,0.55],[0.63,0.7],[0.68,0.6],[0.74,0.8],
[0.05,0.3],[0.07,0.42],[0.1,0.22],[0.13,0.35],[0.16,0.45],[0.19,0.25],[0.22,0.38],[0.25,0.2],[0.28,0.32],[0.31,0.44],
[0.34,0.27],[0.38,0.36],[0.42,0.2],[0.46,0.4],[0.5,0.3],[0.55,0.45],[0.6,0.25],[0.65,0.38],[0.7,0.3],[0.76,0.42],
[0.02,0.04],[0.05,0.1],[0.1,0.06],[0.15,0.12],[0.2,0.08],[0.3,0.1],[0.4,0.12],[0.5,0.08],
[0.06,0.45],[0.07,0.2],[0.08,0.55],[0.09,1.05],[0.1,0.35],[0.11,0.8],[0.12,0.12],[0.13,1.2],[0.14,0.5],[0.15,0.9],
[0.16,0.25],[0.17,1.45],[0.18,0.65],[0.19,1.1],[0.2,0.35],[0.21,1.7],[0.22,0.85],[0.23,0.2],[0.24,1.35],[0.25,0.6],
[0.26,2.0],[0.27,1.0],[0.28,0.4],[0.29,1.55],[0.3,0.75],[0.31,2.3],[0.32,1.25],[0.33,0.5],[0.34,1.8],[0.35,0.95],
[0.36,0.2],[0.37,1.5],[0.38,0.7],[0.39,2.45],[0.4,1.2],[0.41,0.4],[0.42,1.85],[0.43,0.8],[0.44,1.35],[0.45,0.55],
[0.46,2.15],[0.47,1.05],[0.48,0.3],[0.49,1.6],[0.5,0.75],[0.51,1.25],[0.52,2.0],[0.53,0.45],[0.55,1.0],[0.56,1.55],
[0.57,0.7],[0.59,1.25],[0.6,0.35],[0.61,2.3],[0.62,0.85],[0.64,1.35],[0.66,0.5],[0.67,1.9],[0.69,1.05],[0.7,0.45],
[0.72,1.55],[0.73,0.7],[0.75,1.3],[0.77,0.55],[0.8,1.1],[0.82,1.75],[0.85,0.8],[0.88,1.45],[0.9,0.95],[0.92,0.6],
[0.35,0.06],[0.25,0.05],[0.45,0.1],[0.55,0.15],[0.65,0.18],[0.15,0.05]];

// ---------- DRAWING ----------
const FONT = '"Liberation Sans", Arial, sans-serif';
const root = document.getElementById("root");
const pval = d => Math.pow(10, -d[1]);
const colorScale = {type: "linear", domain: colorStops, range: colorRange};

function addDiv(cls, left, top, text) {
  const d = document.createElement("div");
  d.className = "abs " + cls;
  d.style.left = left + "px"; d.style.top = top + "px";
  if (text) d.textContent = text;
  root.appendChild(d);
  return d;
}

function boxLabels(svg) {
  svg.querySelectorAll('g[font-style="italic"] text').forEach(t => {
    const b = t.getBBox();
    const r = document.createElementNS("http://www.w3.org/2000/svg", "rect");
    r.setAttribute("x", b.x - 2); r.setAttribute("y", b.y + 0.5);
    r.setAttribute("width", b.width + 4); r.setAttribute("height", b.height - 1);
    r.setAttribute("rx", 1.8);
    r.setAttribute("fill", "#f0f0f0"); r.setAttribute("stroke", "#2a2a2a"); r.setAttribute("stroke-width", 0.9);
    if (t.getAttribute("transform")) r.setAttribute("transform", t.getAttribute("transform"));
    t.parentNode.insertBefore(r, t);
  });
}

function panel(c) {
  const rows = c.genes.map((g, i) => ({name: g[0], x: g[1], y: g[2], lx: c.spots[i][0], ly: c.spots[i][1]}));
  const dots = c.points.concat(c.genes.map(g => [g[1], g[2]]));
  const svg = Plot.plot({
    width: 767, height: c.height,
    marginLeft: c.ml, marginRight: c.mr, marginTop: c.mt, marginBottom: c.mb,
    style: {fontFamily: FONT, background: "white"},
    x: {domain: c.xd, label: null},
    y: {domain: c.yd, label: null},
    color: colorScale,
    marks: [
      Plot.gridX(c.xminor, {stroke: "#f1f1f1", strokeOpacity: 1, strokeWidth: 0.7}),
      Plot.gridY(c.yminor, {stroke: "#f1f1f1", strokeOpacity: 1, strokeWidth: 0.7}),
      Plot.gridX(c.xticks, {stroke: "#e4e4e4", strokeOpacity: 1, strokeWidth: 1}),
      Plot.gridY(c.yticks, {stroke: "#e4e4e4", strokeOpacity: 1, strokeWidth: 1}),
      Plot.dot(dots, {x: d => d[0], y: d => d[1], r: 1.6, fill: pval, stroke: "none"}),
      Plot.ruleX(foldLines, {stroke: "#555", strokeWidth: 1}),
      Plot.ruleY([sigLine], {stroke: "#555", strokeWidth: 1}),
      Plot.link(rows, {x1: "x", y1: "y", x2: "lx", y2: "ly", stroke: "#333", strokeWidth: 0.7}),
      Plot.text(rows, {x: "lx", y: "ly", text: "name", fontStyle: "italic", fontSize: 10.3, fill: "#111"}),
      Plot.axisX(c.xticks, {tickFormat: c.xfmt, tickSize: 3, tickPadding: 2, fontSize: 9, color: "#555", label: null}),
      Plot.axisY(c.yticks, {tickFormat: d => String(d), tickSize: 3, tickPadding: 2, fontSize: 9, color: "#555", label: null}),
      Plot.text(["Log2 Fold Change"], {text: d => d, frameAnchor: "bottom", dy: c.xtitleDy, fontSize: 11, fill: "black"}),
      Plot.text(["-Log10 (p-value)"], {text: d => d, frameAnchor: "left", dx: -23, rotate: -90, fontSize: 11, fill: "black"}),
      Plot.frame({stroke: "#333", strokeWidth: 1})
    ]
  });
  const d = addDiv("", 0, c.top);
  d.appendChild(svg);
  boxLabels(svg);
}

function legend(barLeft, barTop, barBottom) {
  const steps = d3.range(0, 1, 0.02);
  const mt = 8;
  addDiv("ltitle", barLeft - 1, barTop - 19, "P-value");
  const svg = Plot.plot({
    width: 60, height: barBottom - barTop + 2 * mt,
    marginLeft: 0, marginRight: 47, marginTop: mt, marginBottom: mt,
    style: {fontFamily: FONT, background: "transparent", overflow: "visible"},
    x: {domain: [0, 1], axis: null},
    y: {domain: [0, 1], label: null},
    color: colorScale,
    marks: [
      Plot.rect(steps, {x1: 0, x2: 1, y1: d => d, y2: d => d + 0.02, fill: d => d + 0.01, stroke: d => d + 0.01, strokeWidth: 0.8}),
      Plot.ruleY(legendTicks, {x1: 0, x2: 0.2, stroke: "white", strokeWidth: 1}),
      Plot.ruleY(legendTicks, {x1: 0.8, x2: 1, stroke: "white", strokeWidth: 1}),
      Plot.axisY(legendTicks, {anchor: "right", tickSize: 0, tickPadding: 6, tickFormat: d => d.toFixed(2), fontSize: 9.5, color: "#555", label: null})
    ]
  });
  const d = addDiv("", barLeft, barTop - mt);
  d.appendChild(svg);
}

const fmt1 = d => d.toFixed(1);
const fmt0 = d => String(d);

panel({top: 0, height: 395, ml: 37, mr: 71, mt: 3, mb: 37, xd: [-5.17, 6.99], yd: [-10.5, 228],
  xticks: xTicksA, xminor: xMinorA, yticks: yTicksA, yminor: yMinorA, xfmt: fmt1, xtitleDy: 25,
  genes: genesA, spots: spotsA, points: pointsA});
panel({top: 395, height: 420, ml: 36, mr: 62, mt: 27, mb: 37, xd: [-2.95, 2.64], yd: [-0.37, 7.83],
  xticks: xTicksB, xminor: xMinorB, yticks: yTicksB, yminor: yMinorB, xfmt: fmt0, xtitleDy: 25,
  genes: genesB, spots: spotsB, points: pointsB});
panel({top: 815, height: 425, ml: 36, mr: 61, mt: 36, mb: 34, xd: [-2.75, 6.87], yd: [-0.4, 8.82],
  xticks: xTicksC, xminor: xMinorC, yticks: yTicksC, yminor: yMinorC, xfmt: fmt1, xtitleDy: 24,
  genes: genesC, spots: spotsC, points: pointsC});

legend(715, 158, 222);
legend(723, 577, 641);
legend(724, 1004, 1069);

addDiv("letter", 3, 5, "A");
addDiv("letter", 3, 398, "B");
addDiv("letter", 3, 823, "C");
</script></body></html>
